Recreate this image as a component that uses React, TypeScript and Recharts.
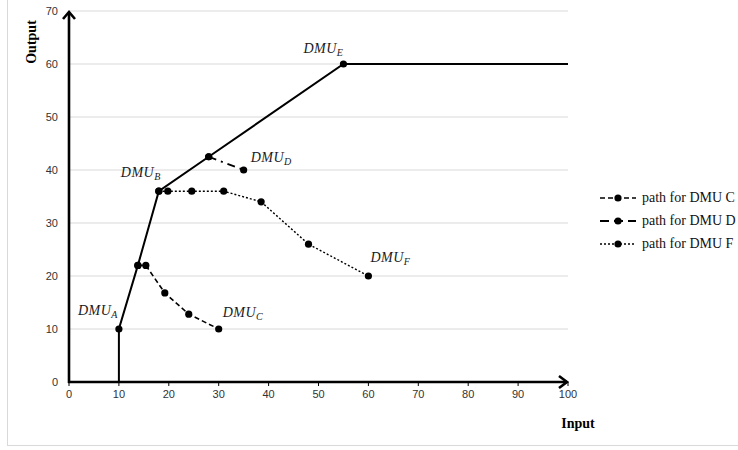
import React from 'react';
import {
  ComposedChart, Line, Scatter, XAxis, YAxis, CartesianGrid, ReferenceLine, Legend,
} from 'recharts';

// ---- data ----
const xTicks = [0, 10, 20, 30, 40, 50, 60, 70, 80, 90, 100];
const yTicks = [0, 10, 20, 30, 40, 50, 60, 70];

const frontierX = [10, 10, 13.8, 18, 28, 55, 100];
const frontierY = [0, 10, 22, 36, 42.5, 60, 60];

const pathCX = [13.8, 15.4, 19.2, 24, 30];
const pathCY = [22, 22, 16.8, 12.8, 10];

const pathDX = [28, 35];
const pathDY = [42.5, 40];

const pathFX = [18, 19.8, 24.6, 31, 38.5, 48, 60];
const pathFY = [36, 36, 36, 36, 34, 26, 20];

const dmuNames = ['A', 'B', 'C', 'D', 'E', 'F'];
const dmuX = [10, 18, 30, 35, 55, 60];
const dmuY = [10, 36, 10, 40, 60, 20];

const legendNames = ['path for DMU C', 'path for DMU D', 'path for DMU F'];

const toRows = (xs: number[], ys: number[]) => xs.map((x, i) => ({ x, y: ys[i] }));
const frontier = toRows(frontierX, frontierY);
const pathC = toRows(pathCX, pathCY);
const pathD = toRows(pathDX, pathDY);
const pathF = toRows(pathFX, pathFY);
const dmus = dmuNames.map((name, i) => ({ name, x: dmuX[i], y: dmuY[i] }));

// ---- styles ----
const dashC = '5 3';
const dashD = '8 5 2 5';
const dashF = '2 2';
const tickFont = { fontFamily: '"Liberation Sans", Arial, sans-serif', fontSize: 11, fill: '#333' };
const serif = '"Liberation Serif", "Times New Roman", serif';

const labelOffsets: Record<string, { dx: number; dy: number; anchor: 'start' | 'end' }> = {
  A: { dx: -1, dy: -14, anchor: 'end' },
  B: { dx: 2, dy: -14, anchor: 'end' },
  C: { dx: 4, dy: -12, anchor: 'start' },
  D: { dx: 7, dy: -8, anchor: 'start' },
  E: { dx: 0, dy: -11, anchor: 'end' },
  F: { dx: 2, dy: -14, anchor: 'start' },
};

const Dot = (props: any) => {
  const { cx, cy, index, skipEnds, length } = props;
  if (skipEnds && (index === 0 || index === length - 1)) return <g key={`d${index}`} />;
  return <circle key={`d${index}`} cx={cx} cy={cy} r={3.6} fill="#000" stroke="none" />;
};

const DmuLabel = (props: any) => {
  const { cx, cy, payload } = props;
  const o = labelOffsets[payload.name];
  return (
    <text x={cx + o.dx} y={cy + o.dy} textAnchor={o.anchor}
      fontFamily={serif} fontStyle="italic" fontSize={14} fill="#1a1a1a" letterSpacing={0.5}>
      DMU<tspan fontSize={10} dy={3}>{payload.name}</tspan>
    </text>
  );
};

const ArrowAxis = (props: any) => {
  const { x1, y1, x2, y2 } = props;
  const vertical = Math.abs(x1 - x2) < 1;
  if (vertical) {
    const top = Math.min(y1, y2);
    const bottom = Math.max(y1, y2);
    return (
      <g>
        <line x1={x1} y1={bottom + 1} x2={x1} y2={top + 1} stroke="#000" strokeWidth={2.6} />
        <path d={`M${x1 - 6},${top + 8} L${x1},${top + 1} L${x1 + 6},${top + 8}`} fill="none" stroke="#000" strokeWidth={2.6} />
      </g>
    );
  }
  const left = Math.min(x1, x2);
  const right = Math.max(x1, x2);
  return (
    <g>
      <line x1={left - 1} y1={y1} x2={right - 1} y2={y1} stroke="#000" strokeWidth={2.6} />
      <path d={`M${right - 9},${y1 - 6} L${right - 1},${y1} L${right - 9},${y1 + 6}`} fill="none" stroke="#000" strokeWidth={2.6} />
    </g>
  );
};

const LegendSymbol = ({ dash, w }: { dash: string; w: number }) => (
  <svg width={38} height={12} style={{ display: 'block' }}>
    <line x1={1} y1={6} x2={37} y2={6} stroke="#000" strokeWidth={w} strokeDasharray={dash} />
    <circle cx={19} cy={6} r={3.6} fill="#000" />
  </svg>
);

const legendDashes = [dashC, '9 5', dashF];
const legendWidths = [1.6, 2, 1.3];

const CustomLegend = () => (
  <div style={{ fontFamily: serif, fontSize: 14, color: '#111' }}>
    {legendNames.map((n, i) => (
      <div key={n} style={{ display: 'flex', alignItems: 'center', height: 23 }}>
        <LegendSymbol dash={legendDashes[i]} w={legendWidths[i]} />
        <span style={{ marginLeft: 5, whiteSpace: 'nowrap' }}>{n}</span>
      </div>
    ))}
  </div>
);

export default function App() {
  return (
    <div style={{ position: 'absolute', left: 0, top: 0, width: 738, height: 450, background: '#fff' }}>
      <div style={{ position: 'absolute', left: 7, top: 0, width: 731, height: 446, borderLeft: '1px solid #d9d9d9', borderBottom: '1px solid #d9d9d9', boxSizing: 'border-box' }} />
      <ComposedChart width={738} height={450} margin={{ top: 11, right: 28, left: 0, bottom: 38 }}
        style={{ position: 'absolute', left: 0, top: 0 }}>
        <CartesianGrid vertical={false} stroke="#d9d9d9" strokeWidth={1} />
        <XAxis type="number" dataKey="x" domain={[0, 100]} ticks={xTicks} allowDataOverflow
          axisLine={false} tickLine={{ stroke: '#000', strokeWidth: 1 }} tickSize={4} tickMargin={4}
          tick={tickFont} height={30} interval={0}
          label={{
            content: (p: any) => {
              const vb = p.viewBox;
              return <text x={vb.x + vb.width + 10} y={vb.y + 46} textAnchor="middle" fontFamily={serif} fontWeight="bold" fontSize={14} fill="#000">Input</text>;
            },
          }} />
        <YAxis type="number" dataKey="y" domain={[0, 70]} ticks={yTicks} allowDataOverflow
          axisLine={false} tickLine={false} tickSize={6} tickMargin={5} width={69}
          tick={tickFont} interval={0}
          label={{
            content: () => (
              <text x={0} y={0} transform="translate(36,42) rotate(-90)" textAnchor="middle"
                fontFamily={serif} fontWeight="bold" fontSize={14} fill="#000">Output</text>
            ),
          }} />
        <ReferenceLine segment={[{ x: 0, y: 0 }, { x: 0, y: 70 }]} ifOverflow="visible" shape={ArrowAxis} />
        <ReferenceLine segment={[{ x: 0, y: 0 }, { x: 100, y: 0 }]} ifOverflow="visible" shape={ArrowAxis} />
        <Line data={frontier} dataKey="y" stroke="#000" strokeWidth={2} isAnimationActive={false}
          legendType="none" dot={(p: any) => <Dot {...p} skipEnds length={frontier.length} />} activeDot={false} />
        <Line data={pathC} dataKey="y" name={legendNames[0]} stroke="#000" strokeWidth={1.6} strokeDasharray={dashC}
          isAnimationActive={false} dot={(p: any) => <Dot {...p} />} activeDot={false} />
        <Line data={pathD} dataKey="y" name={legendNames[1]} stroke="#000" strokeWidth={1.8} strokeDasharray={dashD}
          isAnimationActive={false} dot={(p: any) => <Dot {...p} />} activeDot={false} />
        <Line data={pathF} dataKey="y" name={legendNames[2]} stroke="#000" strokeWidth={1.4} strokeDasharray={dashF}
          isAnimationActive={false} dot={(p: any) => <Dot {...p} />} activeDot={false} />
        <Scatter data={dmus} dataKey="y" isAnimationActive={false} legendType="none" shape={DmuLabel} />
        <Legend layout="vertical" align="right" verticalAlign="middle" width={142}
          content={() => <CustomLegend />}
          wrapperStyle={{ position: 'absolute', left: 599, top: 186, right: 'auto', bottom: 'auto', width: 142 }} />
      </ComposedChart>
    </div>
  );
}
